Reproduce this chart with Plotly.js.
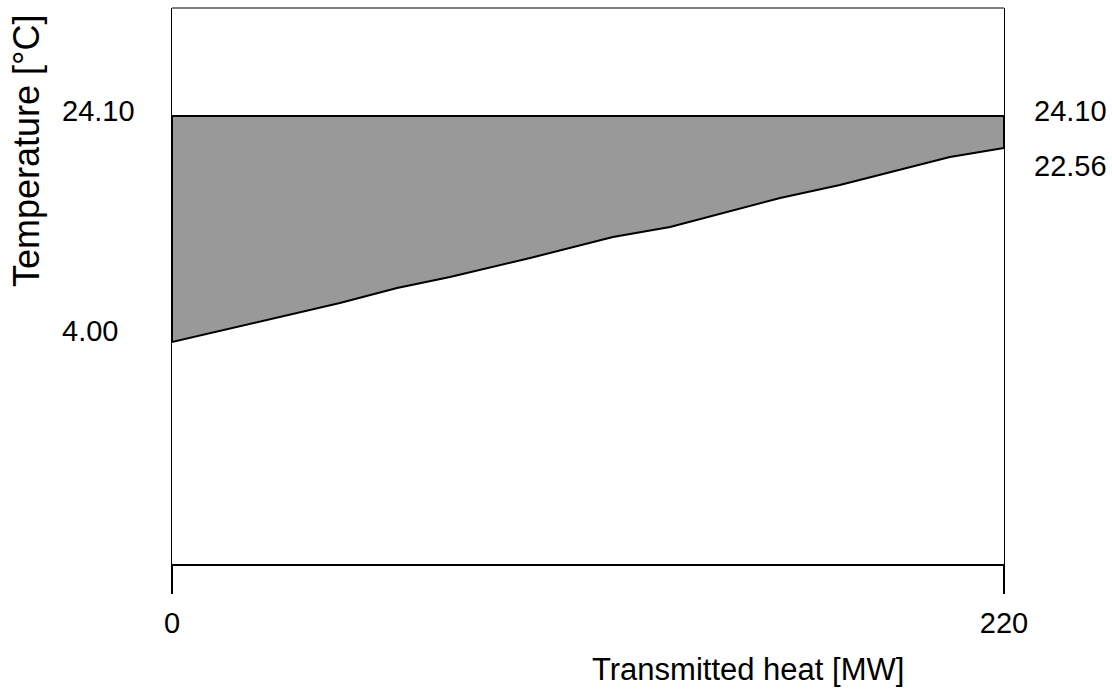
<!DOCTYPE html>
<html>
<head>
<meta charset="utf-8">
<script src="https://cdn.plot.ly/plotly-3.0.1.min.js"></script>
<style>html,body{margin:0;padding:0;background:#fff;}#chart{width:1112px;height:690px;}</style>
</head>
<body>
<div id="chart"></div>
<script>
// Data
const heatMW = [0, 44.4, 59.5, 73.5, 94.7, 116.6, 131.7, 160.8, 176.6, 205.7, 220];
const lowerTemp = [4.0, 7.47, 8.80, 9.78, 11.47, 13.34, 14.23, 16.81, 17.96, 20.45, 21.25];
const upperTemp = 24.1;
const xTickVals = [0, 220];
const xTickText = ['0', '220'];
const leftLabels = ['24.10', '4.00'];
const rightLabels = ['24.10', '22.56'];
const xTitle = 'Transmitted heat [MW]';
const yTitle = 'Temperature [°C]';

const FONT = '"Liberation Sans", Arial, Helvetica, sans-serif';

// Closed polygon: top line left->right, then lower curve right->left
const polyX = [heatMW[0], heatMW[heatMW.length - 1]].concat(heatMW.slice().reverse()).concat([heatMW[0]]);
const polyY = [upperTemp, upperTemp].concat(lowerTemp.slice().reverse()).concat([upperTemp]);

const trace = {
  type: 'scatter', mode: 'lines',
  x: polyX, y: polyY,
  fill: 'toself', fillcolor: '#999999',
  line: {color: '#000000', width: 2},
  hoverinfo: 'skip', showlegend: false
};

const last = lowerTemp.length - 1;
const annotations = [
  {text: leftLabels[0], xref: 'paper', x: -0.1346, xanchor: 'left', yref: 'y', y: upperTemp, yanchor: 'middle', yshift: 5},
  {text: leftLabels[1], xref: 'paper', x: -0.1346, xanchor: 'left', yref: 'y', y: lowerTemp[0], yanchor: 'middle', yshift: 11},
  {text: rightLabels[0], xref: 'paper', x: 1.0336, xanchor: 'left', yref: 'y', y: upperTemp, yanchor: 'middle', yshift: 5},
  {text: rightLabels[1], xref: 'paper', x: 1.0336, xanchor: 'left', yref: 'y', y: lowerTemp[last], yanchor: 'middle', yshift: -18},
  {text: xTitle, xref: 'paper', x: 0.6923, xanchor: 'center', yref: 'paper', y: -0.1906, yanchor: 'middle', font: {size: 31}},
  {text: yTitle, xref: 'paper', x: -0.1755, xanchor: 'center', yref: 'paper', y: 0.7446, yanchor: 'middle', textangle: -90, font: {size: 36}}
].map(a => Object.assign({showarrow: false, font: {size: 29, family: FONT, color: '#000'}}, a, a.font ? {font: Object.assign({family: FONT, color: '#000'}, a.font)} : {}));

const layout = {
  width: 1112, height: 690,
  margin: {l: 172, r: 108, t: 8, b: 126, pad: 0},
  paper_bgcolor: '#ffffff', plot_bgcolor: '#ffffff',
  font: {family: FONT, color: '#000', size: 29},
  showlegend: false,
  xaxis: {
    range: [0, 220], showgrid: false, zeroline: false,
    showline: true, linecolor: '#000', linewidth: 2,
    ticks: 'outside', ticklen: 28, tickwidth: 2, tickcolor: '#000',
    tickvals: xTickVals, ticktext: xTickText,
    tickfont: {size: 29, family: FONT, color: '#000'},
    ticklabelstandoff: 4
  },
  yaxis: {
    range: [-15.744, 33.705], showgrid: false, zeroline: false,
    showline: true, linecolor: '#000', linewidth: 1, mirror: true,
    ticks: '', showticklabels: false
  },
  shapes: [
    {type: 'line', xref: 'paper', yref: 'paper', x0: 0, x1: 1, y0: 1, y1: 1, line: {color: '#000', width: 1}}
  ],
  annotations: annotations
};

Plotly.newPlot('chart', [trace], layout, {staticPlot: true, displayModeBar: false});
</script>
</body>
</html>
